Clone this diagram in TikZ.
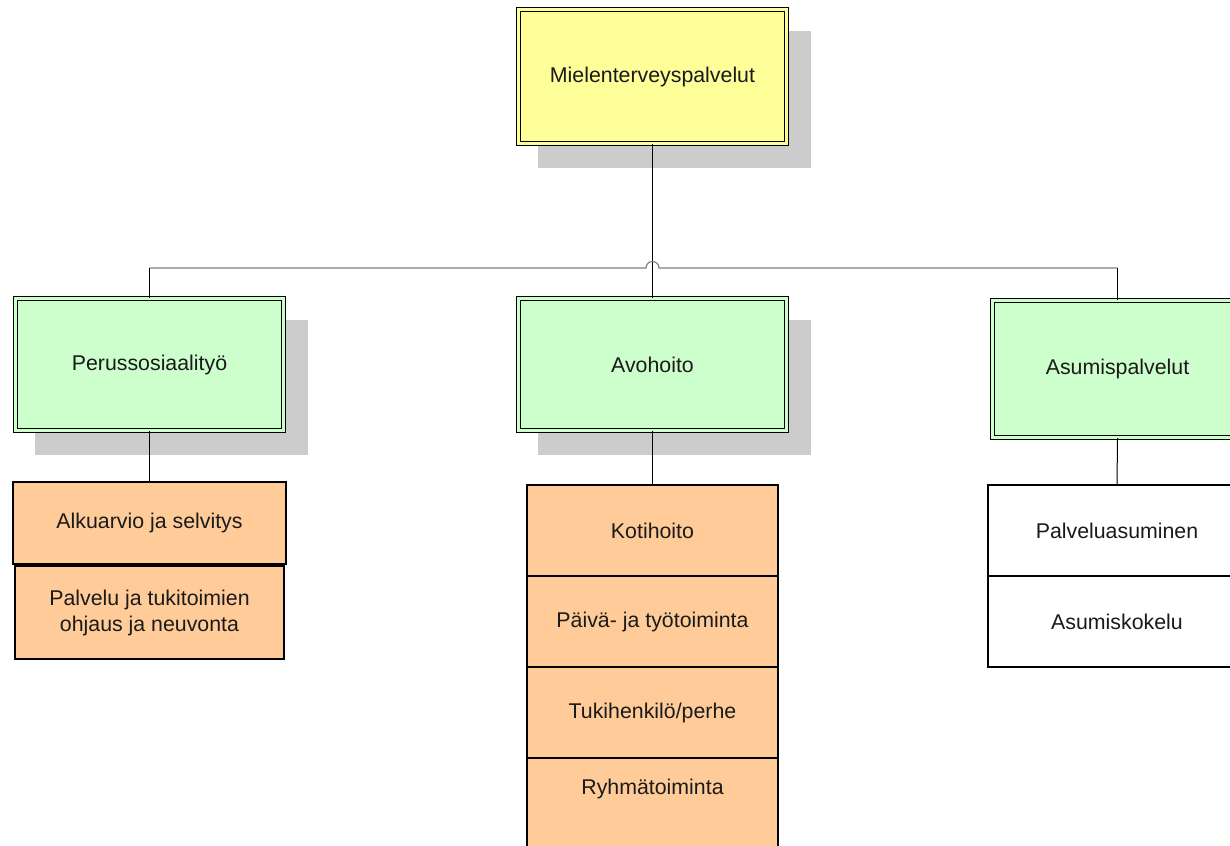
\documentclass[tikz,border=0pt]{standalone}
\usepackage{fontspec}
\setmainfont{Liberation Sans}
\usetikzlibrary{calc,backgrounds}
\definecolor{yel}{HTML}{FFFF99}
\definecolor{grn}{HTML}{CCFFCC}
\definecolor{org}{HTML}{FFCC99}
\definecolor{shd}{HTML}{CCCCCC}
\definecolor{busgray}{HTML}{808080}
\definecolor{txt}{HTML}{1A1A1A}
\begin{document}
\begin{tikzpicture}[x=0.75pt,y=-0.75pt,
  every node/.style={font=\fontsize{16}{19.5}\selectfont, align=center, inner sep=0pt, text=txt},
  dblbox/.style={draw=black, line width=0.95pt, double=#1, double distance=2.3pt, fill=#1},
  cell/.style={draw=black, line width=1.1pt, fill=#1},
  conn/.style={draw=black, line width=0.75pt},
  busline/.style={draw=busgray, line width=0.9pt},
  shadowbox/.style={fill=shd}]
\useasboundingbox (0,0) rectangle (1230,845);
\clip (0,0) rectangle (1230,845);

% main boxes
\node[dblbox=yel, minimum width=201pt, minimum height=100.5pt] (top) at (652.5,76.5) {Mielenterveyspalvelut};
\node[dblbox=grn, minimum width=201pt, minimum height=99pt] (left) at (149.5,364.5) {Perussosiaalityö};
\node[dblbox=grn, minimum width=201pt, minimum height=99pt] (mid) at (652.5,364.5) {Avohoito};
\node[dblbox=grn, minimum width=187.5pt, minimum height=102.75pt] (right) at (1117.5,369) {Asumispalvelut};

% left column
\node[cell=org, minimum width=204.75pt, minimum height=61.5pt] (a1) at (149.5,523) {Alkuarvio ja selvitys};
\node[cell=org, minimum width=201.75pt, minimum height=69.75pt] (a2) at (149.5,612.5) {Palvelu ja tukitoimien\\ohjaus ja neuvonta};

% middle column
\node[cell=org, minimum width=188.25pt, minimum height=68.25pt] (k1) at (652.5,530.5) {Kotihoito};
\node[cell=org, minimum width=188.25pt, minimum height=68.25pt] (k2) at (652.5,621.5) {Päivä- ja työtoiminta};
\node[cell=org, minimum width=188.25pt, minimum height=68.25pt] (k3) at (652.5,712.5) {Tukihenkilö/perhe};
\node[cell=org, minimum width=188.25pt, minimum height=68.25pt] (k4) at (652.5,803.5) {};
\node (k4t) at ($(k4.north)+(0,32)$) {Ryhmätoiminta};

% right column
\node[cell=white, minimum width=193.5pt, minimum height=68.25pt] (w1) at (1117,530.5) {Palveluasuminen};
\node[cell=white, minimum width=193.5pt, minimum height=68.25pt] (w2) at (1117,621.5) {Asumiskokelu};

% shadows
\begin{scope}[on background layer]
  \fill[shadowbox] ($(top.north west)+(20,22)$) rectangle ($(top.south east)+(24,24)$);
  \fill[shadowbox] ($(left.north west)+(20,22)$) rectangle ($(left.south east)+(24,24)$);
  \fill[shadowbox] ($(mid.north west)+(20,22)$) rectangle ($(mid.south east)+(24,24)$);
\end{scope}

% connectors
\coordinate (bus) at (652.5,268);
\draw[conn] (top.south) -- (mid.north);
\draw[busline] (left.north |- bus) -- ($(bus)+(-6.5,0)$) arc[start angle=180,end angle=360,radius=6.5] -- (right.north |- bus);
\draw[conn] (left.north |- bus) -- (left.north);
\draw[conn] (right.north |- bus) -- (right.north);
\draw[conn] (left.south) -- (a1.north);
\draw[conn] (mid.south) -- (k1.north);
\draw[conn] (right.south) -- (w1.north);
\end{tikzpicture}
\end{document}
